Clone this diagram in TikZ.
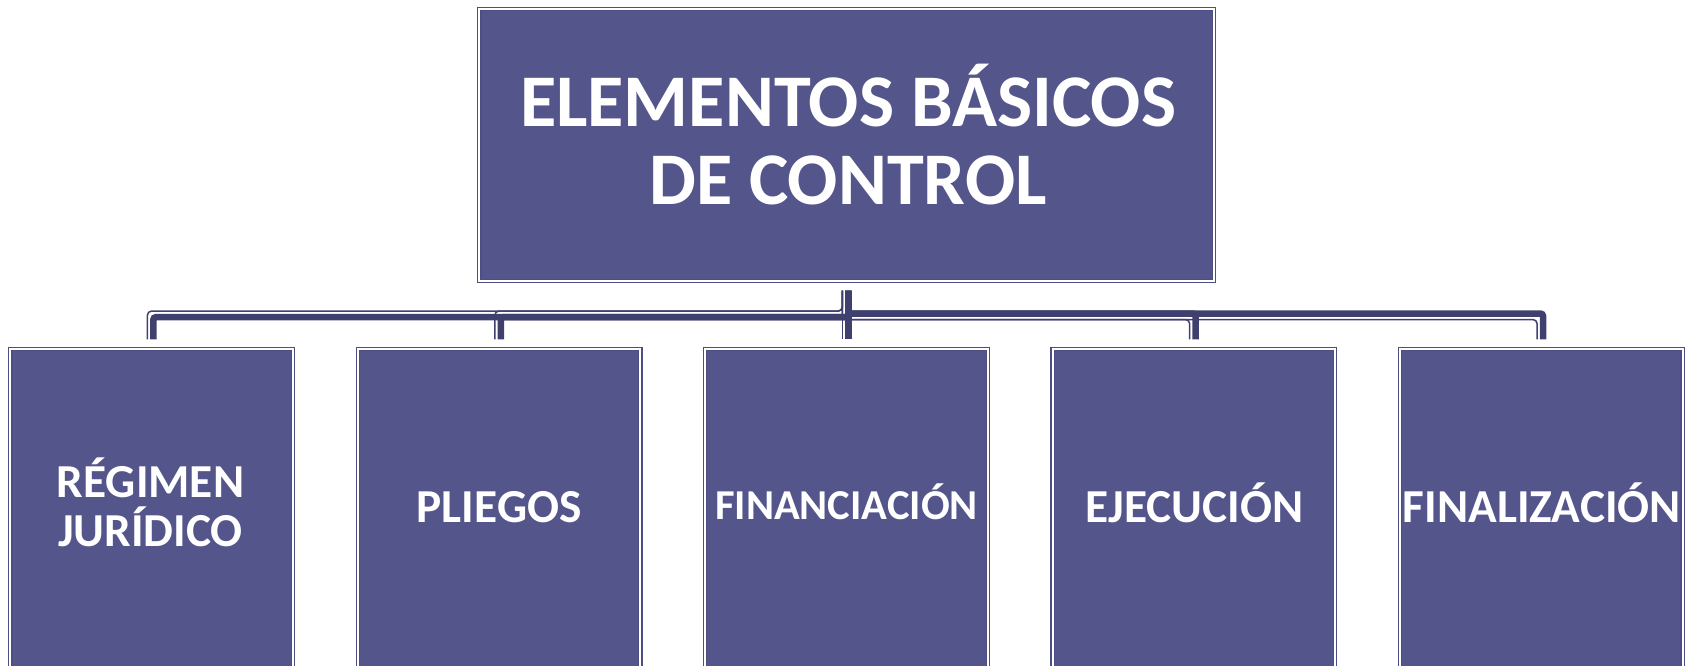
\documentclass[tikz,border=0pt]{standalone}
\usepackage{fontspec}
\setmainfont{Carlito}
\usetikzlibrary{calc}
\definecolor{boxfill}{HTML}{54558A}
\definecolor{boxline}{HTML}{4E4E86}
\definecolor{conncol}{HTML}{40406E}
\begin{document}
\begin{tikzpicture}[x=1pt,y=-1pt,
  box/.style={rectangle, draw=boxline, line width=1.2pt, double=white, double distance=2pt, fill=boxfill, inner sep=0pt},
  topbox/.style={box, minimum width=734.4pt, minimum height=272.2pt},
  childbox/.style={box, minimum width=282.6pt, minimum height=320pt},
  titletext/.style={text=white, font=\bfseries\fontsize{74.3}{78}\selectfont, inner sep=0pt, anchor=base},
  lbl/.style={text=white, font=\bfseries\fontsize{47.3}{49}\selectfont, inner sep=0pt, anchor=base},
  smalllbl/.style={text=white, font=\bfseries\fontsize{42.6}{45}\selectfont, inner sep=0pt, anchor=base},
  thickc/.style={draw=conncol, line width=6.5pt, rounded corners=2.5pt},
  thinc/.style={draw=conncol, line width=1.5pt, rounded corners=4pt}]
\useasboundingbox (0,0) rectangle (1692,665);
\clip (0,0) rectangle (1692,665);

\node[topbox] (top) at (846.5,144.9) {};
\node[childbox] (b1) at (151.7,508.8) {};
\node[childbox] (b2) at (499.1,508.8) {};
\node[childbox] (b3) at (846.5,508.8) {};
\node[childbox] (b4) at (1193.9,508.8) {};
\node[childbox] (b5) at (1541.3,508.8) {};

\node[titletext] (tl1) at (848,126) {ELEMENTOS BÁSICOS};
\node[titletext] (tl2) at (848,204) {DE CONTROL};

\node[lbl] (l1a) at (150.5,497.5) {RÉGIMEN};
\node[lbl] (l1b) at (150.5,546.5) {JURÍDICO};
\node[lbl] (l2) at (499.1,522.5) {PLIEGOS};
\node[smalllbl] (l3) at (846.5,519) {FINANCIACIÓN};
\node[lbl] (l4) at (1194.5,522.5) {EJECUCIÓN};
\node[lbl] (l5) at (1541.8,522.5) {FINALIZACIÓN};

% connectors
\foreach \c/\d in {b1/-1,b2/-1,b4/1,b5/1}{
  \draw[thickc] ($(top.south)+(1.75,9)$) -- ($(top.south)+(1.75,{33.75-\d*1.75})$) -| ($(\c.north)+(1.75,-8.8)$);
  \draw[thinc] ($(top.south)+(-4.25,9)$) -- ($(top.south)+(-4.25,{33.75+\d*4.25})$) -| ($(\c.north)+(-4.25,-8.8)$);
}
\draw[thickc] ($(top.south)+(1.75,9)$) -- ($(b3.north)+(1.75,-8.8)$);
\draw[thinc] ($(top.south)+(-4.25,9)$) -- ($(b3.north)+(-4.25,-8.8)$);
\end{tikzpicture}
\end{document}
